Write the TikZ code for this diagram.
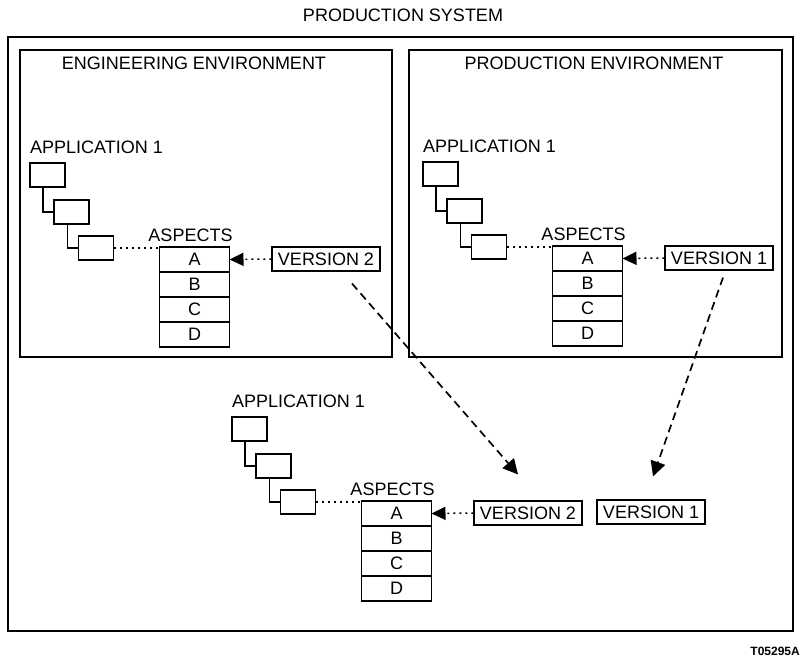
\documentclass[tikz,border=0pt]{standalone}
\usepackage{fontspec}
\setmainfont{Liberation Sans}
\usetikzlibrary{arrows.meta,positioning}

\tikzset{
  txt/.style={font=\fontsize{18}{20}\selectfont, inner sep=0pt},
  appbox/.style={draw, line width=1.2pt, minimum width=35pt, minimum height=24pt, inner sep=0pt},
  cell/.style={draw, line width=1.2pt, minimum width=70pt, minimum height=25pt, inner sep=0pt, outer sep=0pt, font=\fontsize{18}{20}\selectfont},
  verbox/.style={draw, line width=1.1pt, minimum width=108pt, minimum height=24pt, inner sep=0pt, font=\fontsize{18}{20}\selectfont},
  envbox/.style={draw, line width=1.3pt},
  link/.style={line width=1.7pt},
  dots/.style={line width=1.5pt, dash pattern=on 2pt off 4pt},
  move/.style={line width=1.7pt, dash pattern=on 8pt off 5pt, -{Triangle[length=15pt,width=15pt]}}
}

\begin{document}
\begin{tikzpicture}[x=1pt, y=-1pt]
    \useasboundingbox (0,0) rectangle (802,659);

    % systems
    \node[txt] (title) at (403,15) {PRODUCTION SYSTEM};
    \draw[envbox, line width=1.5pt] (8,37) rectangle (793,631);
    \draw[envbox] (20,50) rectangle (392,357);
    \draw[envbox] (409,50) rectangle (782,357);
    \node[txt] (englabel) at (194,63) {ENGINEERING ENVIRONMENT};
    \node[txt] (prodlabel) at (594,63) {PRODUCTION ENVIRONMENT};

    % one application with its aspects
    \foreach \g/\ox/\oy/\v in {eng/30/163/2, prod/423/162/1, sys/232/417/2} {
        \begin{scope}[shift={(\ox,\oy)}]
            \node[txt, anchor=west] (\g-app) at (0,-16) {APPLICATION 1};
            \node[appbox] (\g-b1) at (17.5,12) {};
            \node[appbox] (\g-b2) at (41.5,49) {};
            \node[appbox] (\g-b3) at (66,85) {};
            \node[txt] (\g-asp) at (160.5,72) {ASPECTS};
            \node[cell] (\g-a) at (164.5,96.5) {A};
            \node[cell, below=0pt of \g-a] (\g-b) {B};
            \node[cell, below=0pt of \g-b] (\g-c) {C};
            \node[cell, below=0pt of \g-c] (\g-d) {D};
            \node[verbox] (\g-v) at (296,96) {VERSION \v};

            \draw[link] ([xshift=-4.5pt]\g-b1.south) |- (\g-b2.west);
            \draw[link] ([xshift=-4pt]\g-b2.south) |- (\g-b3.west);
            \draw[dots] (\g-b3.east) -- (\g-b3.east -| \g-a.west);
            \draw[dots, -{Triangle[length=14pt,width=13pt]}]
                (\g-v.west) -- (\g-a.east);
        \end{scope}
    }
    \node[verbox] (sys-v1) at (651,512) {VERSION 1};

    % releases
    \draw[move]
        ([xshift=26pt,yshift=-12pt]eng-v.south) -- ([xshift=-10pt,yshift=26pt]sys-v.north);
    \draw[move]
        ([xshift=4pt,yshift=-7pt]prod-v.south) -- ([xshift=2pt,yshift=23pt]sys-v1.north);

    \node[anchor=east, inner sep=0pt, font=\bfseries\fontsize{12}{14}\selectfont] (code) at (800,651) {T05295A};
\end{tikzpicture}
\end{document}
